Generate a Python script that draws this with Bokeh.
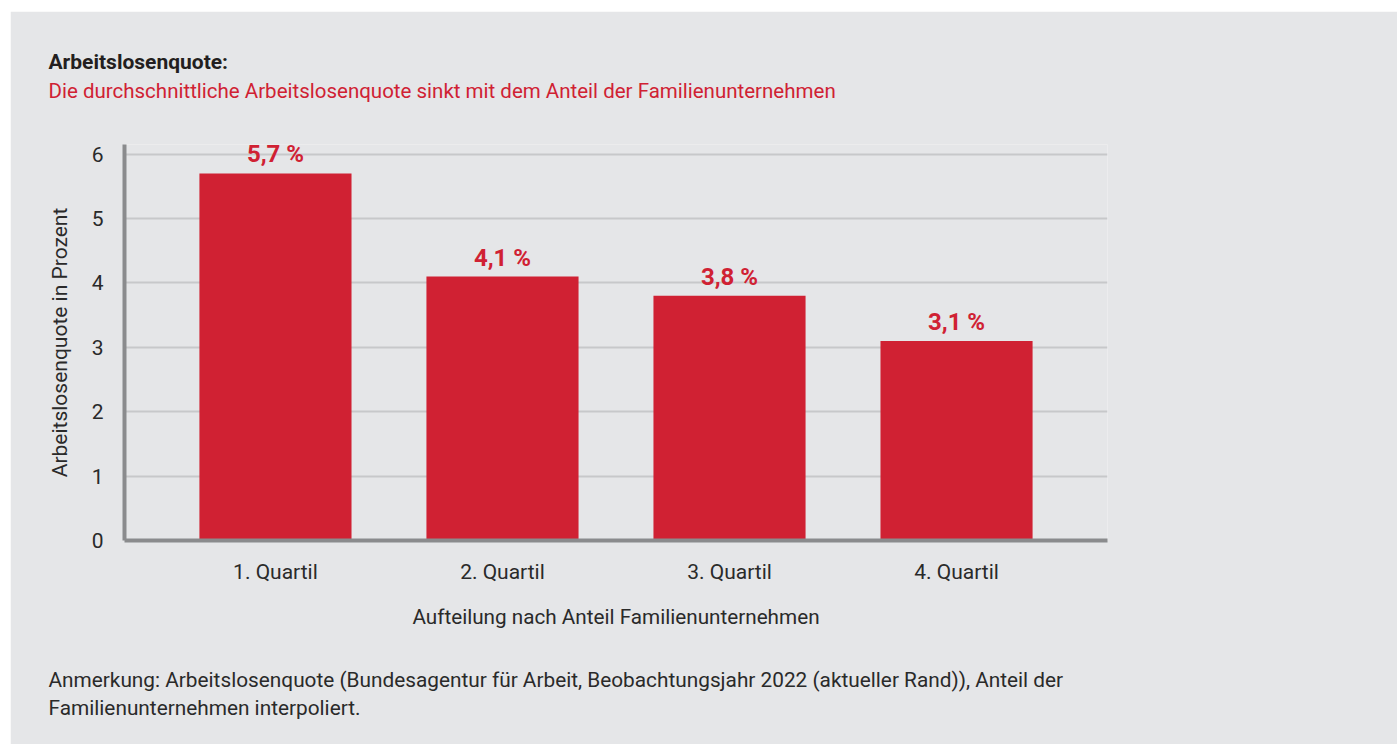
from bokeh.plotting import figure
from bokeh.models import ColumnDataSource, FactorRange, Range1d, LabelSet, Title, FixedTicker
from bokeh.core.properties import value
from bokeh.embed import file_html
from bokeh.resources import INLINE

# ---- data ----
categories = ["1. Quartil", "2. Quartil", "3. Quartil", "4. Quartil"]
values = [5.7, 4.1, 3.8, 3.1]
value_labels = ["5,7 %", "4,1 %", "3,8 %", "3,1 %"]
y_ticks = [0, 1, 2, 3, 4, 5, 6]

title_text = "Arbeitslosenquote:"
subtitle_text = "Die durchschnittliche Arbeitslosenquote sinkt mit dem Anteil der Familienunternehmen"
x_axis_title = "Aufteilung nach Anteil Familienunternehmen"
y_axis_title = "Arbeitslosenquote in Prozent"
note_lines = [
    "Anmerkung: Arbeitslosenquote (Bundesagentur für Arbeit, Beobachtungsjahr 2022 (aktueller Rand)), Anteil der",
    "Familienunternehmen interpoliert.",
]

# ---- style ----
FONT = "Roboto"
BG = "#e5e6e8"
RED = "#d02133"
TEXT = "#2a2a2a"
AXIS = "#8a8b8d"
GRID = "#c7c8ca"

W, H = 1387, 733

source = ColumnDataSource(data=dict(cat=categories, val=values, lab=value_labels))

p = figure(
    width=W, height=H,
    x_range=FactorRange(factors=categories, range_padding=0.165, range_padding_units="absolute"),
    y_range=Range1d(0, 6.15),
    output_backend="svg", toolbar_location=None,
    min_border_left=114, min_border_right=290, min_border_top=133, min_border_bottom=204,
)
p.margin = (11, 0, 0, 10)
p.background_fill_color = BG
p.border_fill_color = BG
p.outline_line_color = None

p.vbar(x="cat", top="val", width=0.67, source=source, fill_color=RED, line_color=None)

labels = LabelSet(x="cat", y="val", text="lab", source=source, y_offset=11,
                  text_align="center", text_baseline="alphabetic",
                  text_font=value(FONT), text_font_size=value("24px"),
                  text_font_style=value("bold"), text_color=value(RED))
p.add_layout(labels)

# grid
p.xgrid.grid_line_color = None
p.ygrid.grid_line_color = GRID
p.ygrid.grid_line_width = 2
p.ygrid.ticker = FixedTicker(ticks=y_ticks)

# y axis
p.yaxis.ticker = FixedTicker(ticks=y_ticks)
p.yaxis.axis_line_color = AXIS
p.yaxis.axis_line_width = 4
p.yaxis.major_tick_line_color = None
p.yaxis.minor_tick_line_color = None
p.yaxis.major_tick_out = 0
p.yaxis.major_tick_in = 0
p.yaxis.major_label_standoff = 21
p.yaxis.major_label_text_font = FONT
p.yaxis.major_label_text_font_size = "21px"
p.yaxis.major_label_text_color = TEXT
p.yaxis.axis_label = y_axis_title
p.yaxis.axis_label_standoff = 17
p.yaxis.axis_label_text_font = FONT
p.yaxis.axis_label_text_font_size = "21px"
p.yaxis.axis_label_text_font_style = "normal"
p.yaxis.axis_label_text_color = TEXT

# x axis
p.xaxis.axis_line_color = AXIS
p.xaxis.axis_line_width = 4
p.xaxis.major_tick_line_color = None
p.xaxis.minor_tick_line_color = None
p.xaxis.major_tick_out = 0
p.xaxis.major_tick_in = 0
p.xaxis.major_label_standoff = 19
p.xaxis.major_label_text_font = FONT
p.xaxis.major_label_text_font_size = "21px"
p.xaxis.major_label_text_color = TEXT
p.xaxis.axis_label = x_axis_title
p.xaxis.axis_label_standoff = 18
p.xaxis.axis_label_text_font = FONT
p.xaxis.axis_label_text_font_size = "20.7px"
p.xaxis.axis_label_text_font_style = "normal"
p.xaxis.axis_label_text_color = TEXT

# ---- header panels (closest to the frame first) ----
p.add_layout(Title(text=" ", align="left", offset=0, standoff=16,
                   text_font=FONT, text_font_size="21px", text_color=BG), "above")
p.add_layout(Title(text=subtitle_text, align="left", offset=-76, standoff=0,
                   text_font=FONT, text_font_size="20.5px", text_font_style="normal",
                   text_color=RED), "above")
p.add_layout(Title(text=title_text, align="left", offset=-76, standoff=6,
                   text_font=FONT, text_font_size="21px", text_font_style="bold",
                   text_color="#231f20"), "above")

# ---- note panels below ----
p.add_layout(Title(text=" ", align="left", offset=0, standoff=8,
                   text_font=FONT, text_font_size="21px", text_color=BG), "below")
for i, line in enumerate(note_lines):
    p.add_layout(Title(text=line, align="left", offset=-76, standoff=4 * i,
                       text_font=FONT, text_font_size="20.8px", text_font_style="normal",
                       text_color=TEXT), "below")

open("out.html", "w").write(file_html(p, INLINE))
